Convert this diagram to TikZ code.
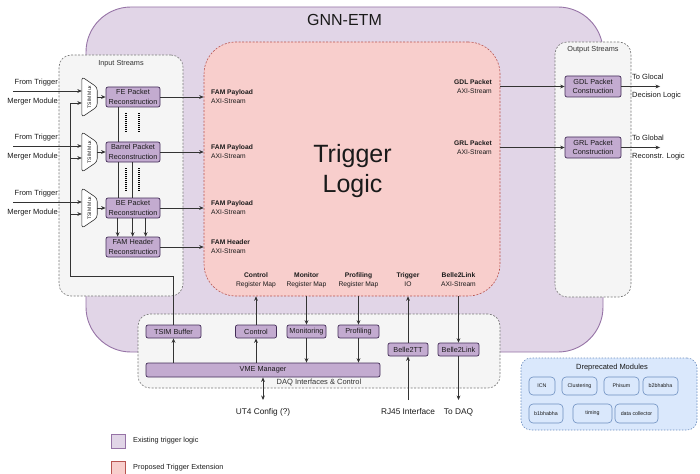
\documentclass[tikz,border=0pt]{standalone}
\usepackage{fontspec}
\setmainfont{Liberation Sans}
\usetikzlibrary{arrows.meta,calc}
\definecolor{pfill}{HTML}{E1D5E7}
\definecolor{pline}{HTML}{9673A6}
\definecolor{rfill}{HTML}{F8CECC}
\definecolor{rline}{HTML}{B85450}
\definecolor{gfill}{HTML}{F5F5F5}
\definecolor{gline}{HTML}{777777}
\definecolor{mfill}{HTML}{C3ABD0}
\definecolor{mline}{HTML}{432D57}
\definecolor{bfill}{HTML}{DAE8FC}
\definecolor{bline}{HTML}{6C8EBF}
\definecolor{lineC}{HTML}{333333}
\definecolor{txt}{HTML}{1A1A1A}
\tikzset{
  gnnbox/.style={draw=pline,fill=pfill,line width=0.9pt,rounded corners=45pt,minimum width=517pt,minimum height=345pt,inner sep=0pt},
  pinkbox/.style={draw=rline,fill=rfill,line width=0.6pt,dash pattern=on 2pt off 1.5pt,rounded corners=32pt,minimum width=296pt,minimum height=254pt,inner sep=0pt},
  bigtxt/.style={inner sep=0pt,align=center,font=\fontsize{25}{30}\selectfont,text=txt},
  graybox/.style={draw=gline,fill=gfill,line width=0.6pt,dash pattern=on 2pt off 1.5pt,rounded corners=12pt,inner sep=0pt},
  bluebox/.style={draw=bline,fill=bfill,line width=0.6pt,dash pattern=on 1.5pt off 1.5pt,rounded corners=10pt,inner sep=0pt},
  modbox/.style={draw=mline,fill=mfill,rounded corners=2pt,line width=0.7pt,inner sep=0pt,align=center,font=\fontsize{7.3}{9.6}\selectfont,text=txt},
  depbox/.style={draw=bline,fill=bfill,rounded corners=4pt,line width=0.6pt,inner sep=0pt,font=\fontsize{5.3}{6}\selectfont,text=txt},
  lbl/.style={inner sep=0pt,font=\fontsize{7.5}{9}\selectfont,text=txt},
  slbl/.style={inner sep=0pt,font=\fontsize{6.7}{9}\selectfont,text=txt},
  blbl/.style={inner sep=0pt,font=\fontsize{8.3}{10}\selectfont,text=txt},
  muxbox/.style={minimum width=15pt,minimum height=40pt,inner sep=0pt},
  muxtxt/.style={inner sep=0pt,font=\fontsize{5}{6}\selectfont,text=txt,rotate=90},
  muxline/.style={draw=lineC,fill=white,line width=0.6pt,rounded corners=3pt},
  conn/.style={draw=lineC,line width=0.7pt},
  arr/.style={conn,-{Stealth[length=4.5pt,width=3.8pt]}},
  darr/.style={conn,{Stealth[length=4.5pt,width=3.8pt]}-{Stealth[length=4.5pt,width=3.8pt]}},
  dotline/.style={draw=black,line width=1.8pt,dash pattern=on 1pt off 1pt},
  legsq/.style={minimum width=14pt,minimum height=14pt,inner sep=0pt,line width=0.7pt}
}
\begin{document}
\begin{tikzpicture}[x=1pt,y=-1pt]
\useasboundingbox (0,0) rectangle (700,473);

% containers
\node[gnnbox] (gnn) at (344.5,179.5) {};
\node[inner sep=0pt,font=\fontsize{16}{18}\selectfont,text=txt] (gnnt) at (344.5,20) {GNN-ETM};
\node[pinkbox] (tl) at (352,169) {};
\node[bigtxt] (tlt) at (352.5,171.5) {Trigger\\Logic};
\node[graybox,minimum width=124pt,minimum height=241pt] (inbox) at (121,175.5) {};
\node[lbl,font=\fontsize{7.3}{9}\selectfont,text=lineC] (inboxt) at (121,64) {Input Streams};
\node[graybox,minimum width=76pt,minimum height=255pt] (outbox) at (593,169.5) {};
\node[lbl,font=\fontsize{7.3}{9}\selectfont,text=lineC] (outboxt) at (593,50) {Output Streams};
\node[graybox,minimum width=362pt,minimum height=74pt] (daq) at (319,351) {};
\node[lbl,text=lineC] (daqt) at (319,382.5) {DAQ Interfaces \& Control};

% input muxes
\node[muxbox] (m1) at (89.5,97) {};
\node[muxbox] (m2) at (89.5,152) {};
\node[muxbox] (m3) at (89.5,208) {};
\foreach \m in {m1,m2,m3}{
  \draw[muxline] (\m.north west) -- ($(\m.north east)+(0,10.5)$) -- ($(\m.south east)+(0,-10.5)$) -- (\m.south west) -- cycle;
}
\node[muxtxt] (m1t) at (m1) {TSIM Mux};
\node[muxtxt] (m2t) at (m2) {TSIM Mux};
\node[muxtxt] (m3t) at (m3) {TSIM Mux};

% reconstruction modules
\node[modbox,minimum width=54pt,minimum height=20pt] (fe) at (133,97) {FE Packet\\Reconstruction};
\node[modbox,minimum width=54pt,minimum height=20pt] (barrel) at (133,152) {Barrel Packet\\Reconstruction};
\node[modbox,minimum width=54pt,minimum height=20pt] (be) at (133,208) {BE Packet\\Reconstruction};
\node[modbox,minimum width=54pt,minimum height=20pt] (famh) at (133,247) {FAM Header\\Reconstruction};

% input labels and lines
\node[lbl,anchor=east] (ft1) at (58,83) {From Trigger};
\node[lbl,anchor=east] (mm1) at (58,102) {Merger Module};
\node[lbl,anchor=east] (ft2) at (58,138) {From Trigger};
\node[lbl,anchor=east] (mm2) at (58,157) {Merger Module};
\node[lbl,anchor=east] (ft3) at (58,194) {From Trigger};
\node[lbl,anchor=east] (mm3) at (58,213) {Merger Module};
\coordinate (in1) at (13,91);
\coordinate (in2) at (13,146);
\coordinate (in3) at (13,202);
\draw[arr] (in1) -- (in1 -| m1.west);
\draw[arr] (in2) -- (in2 -| m2.west);
\draw[arr] (in3) -- (in3 -| m3.west);

\draw[arr] (m1.east) -- (fe.west);
\draw[arr] (m2.east) -- (barrel.west);
\draw[arr] (m3.east) -- (be.west);

% vertical links between modules
\draw[conn] ($(fe.south west)+(13,0)$) -- ($(barrel.north west)+(13,0)$);
\draw[dotline] ($(fe.south west)+(20,6)$) -- ($(barrel.north west)+(20,-9)$);
\draw[dotline] ($(fe.south west)+(33,6)$) -- ($(barrel.north west)+(33,-9)$);
\draw[conn] ($(barrel.south west)+(13,0)$) -- ($(be.north west)+(13,0)$);
\draw[conn] ($(barrel.south west)+(27,0)$) -- ($(be.north west)+(27,0)$);
\draw[dotline] ($(barrel.south west)+(20,6)$) -- ($(be.north west)+(20,-6)$);
\draw[dotline] ($(barrel.south west)+(33,6)$) -- ($(be.north west)+(33,-6)$);
\draw[arr] ($(be.south west)+(12,0)$) -- ($(famh.north west)+(12,0)$);
\draw[arr] ($(be.south west)+(27,0)$) -- ($(famh.north west)+(27,0)$);
\draw[arr] ($(be.south west)+(40,0)$) -- ($(famh.north west)+(40,0)$);

% streams into trigger logic
\draw[arr] (fe.east) -- (fe.east -| tl.west);
\draw[arr] (barrel.east) -- (barrel.east -| tl.west);
\draw[arr] (be.east) -- (be.east -| tl.west);
\draw[arr] (famh.east) -- (famh.east -| tl.west);
\node[slbl,anchor=west,align=left] (fl1) at (211,97) {\textbf{FAM Payload}\\AXI-Stream};
\node[slbl,anchor=west,align=left] (fl2) at (211,152) {\textbf{FAM Payload}\\AXI-Stream};
\node[slbl,anchor=west,align=left] (fl3) at (211,208) {\textbf{FAM Payload}\\AXI-Stream};
\node[slbl,anchor=west,align=left] (fl4) at (211,247) {\textbf{FAM Header}\\AXI-Stream};

% outputs
\node[modbox,minimum width=56pt,minimum height=21pt] (gdl) at (593,86.5) {GDL Packet\\Construction};
\node[modbox,minimum width=56pt,minimum height=21pt] (grl) at (593,147.5) {GRL Packet\\Construction};
\node[slbl,anchor=east,align=right] (gdlt) at (492,86.5) {\textbf{GDL Packet}\\AXI-Stream};
\node[slbl,anchor=east,align=right] (grlt) at (492,147.5) {\textbf{GRL Packet}\\AXI-Stream};
\draw[arr] (gdl.west -| tl.east) -- (gdl.west);
\draw[arr] (grl.west -| tl.east) -- (grl.west);
\coordinate (og1) at (660,86.5);
\coordinate (og2) at (660,147.5);
\draw[arr] (gdl.east) -- (og1);
\draw[arr] (grl.east) -- (og2);
\node[lbl,anchor=west] (tg1) at (632,77) {To Glocal};
\node[lbl,anchor=west] (tg2) at (632,95.5) {Decision Logic};
\node[lbl,anchor=west] (tg3) at (632,138) {To Global};
\node[lbl,anchor=west] (tg4) at (632,157) {Reconstr. Logic};

% register map labels
\node[slbl,align=center] (r1) at (256,280) {\textbf{Control}\\Register Map};
\node[slbl,align=center] (r2) at (306.5,280) {\textbf{Monitor}\\Register Map};
\node[slbl,align=center] (r3) at (358.5,280) {\textbf{Profiling}\\Register Map};
\node[slbl,align=center] (r4) at (408,280) {\textbf{Trigger}\\IO};
\node[slbl,align=center] (r5) at (458.5,280) {\textbf{Belle2Link}\\AXI-Stream};

% DAQ modules
\node[modbox,minimum width=55pt,minimum height=13pt] (tsim) at (173.5,331.5) {TSIM Buffer};
\node[modbox,minimum width=41pt,minimum height=13pt] (ctrl) at (256,331.5) {Control};
\node[modbox,minimum width=39pt,minimum height=13pt] (mon) at (306.5,331.5) {Monitoring};
\node[modbox,minimum width=41pt,minimum height=13pt] (prof) at (358.5,331.5) {Profiling};
\node[modbox,minimum width=40pt,minimum height=13pt] (b2tt) at (408,349.5) {Belle2TT};
\node[modbox,minimum width=41pt,minimum height=13pt] (b2link) at (458.5,349.5) {Belle2Link};
\node[modbox,minimum width=234pt,minimum height=14pt] (vme) at (263,370) {VME Manager};

% feedback path to muxes
\coordinate (fbc) at (70,276);
\coordinate (fb1) at (70,103);
\coordinate (fb2) at (70,158);
\coordinate (fb3) at (70,214);
\draw[arr] (tsim.north) |- (fbc) -- (fb1) -- (fb1 -| m1.west);
\draw[arr] (fb2) -- (fb2 -| m2.west);
\draw[arr] (fb3) -- (fb3 -| m3.west);

% DAQ connections
\draw[arr] (tsim.south |- vme.north) -- (tsim.south);
\draw[arr] (ctrl.south |- vme.north) -- (ctrl.south);
\draw[arr] (ctrl.north) -- (ctrl.north |- tl.south);
\draw[arr] (mon.north |- tl.south) -- (mon.north);
\draw[arr] (mon.south) -- (mon.south |- vme.north);
\draw[arr] (prof.north |- tl.south) -- (prof.north);
\draw[arr] (prof.south) -- (prof.south |- vme.north);
\coordinate (rj) at (408,400);
\coordinate (todaq) at (458.5,400);
\coordinate (ut4) at (263,400);
\draw[arr] (rj) -- (b2tt.south);
\draw[arr] (b2tt.north) -- (b2tt.north |- tl.south);
\draw[arr] (b2link.north |- tl.south) -- (b2link.north);
\draw[arr] (b2link.south) -- (todaq);
\draw[darr] (vme.south) -- (ut4);
\node[blbl] (ut4t) at (263,412) {UT4 Config (?)};
\node[blbl] (rjt) at (408,412) {RJ45 Interface};
\node[blbl] (daqtt) at (458.5,412) {To DAQ};

% deprecated modules
\node[bluebox,minimum width=176pt,minimum height=72pt] (dep) at (609,394) {};
\node[lbl] (dept) at (612,368) {Dreprecated Modules};
\node[depbox,minimum width=26pt,minimum height=18pt] (d1) at (542,386) {ICN};
\node[depbox,minimum width=35pt,minimum height=18pt] (d2) at (579.5,386) {Clustering};
\node[depbox,minimum width=35pt,minimum height=18pt] (d3) at (621.5,386) {Phisum};
\node[depbox,minimum width=35pt,minimum height=18pt] (d4) at (660.5,386) {b2bhabha};
\node[depbox,minimum width=34pt,minimum height=19pt] (d5) at (546,413.5) {b1bhabha};
\node[depbox,minimum width=39pt,minimum height=19pt] (d6) at (592.5,413.5) {timing};
\node[depbox,minimum width=43pt,minimum height=19pt] (d7) at (636.5,413.5) {data collector};

% legend
\node[legsq,draw=pline,fill=pfill] (lg1) at (118,441) {};
\node[lbl,anchor=west,font=\fontsize{7.3}{9}\selectfont] (lg1t) at (133,441) {Existing trigger logic};
\node[legsq,draw=rline,fill=rfill] (lg2) at (118,468) {};
\node[lbl,anchor=west,font=\fontsize{7.3}{9}\selectfont] (lg2t) at (133,468) {Proposed Trigger Extension};
\end{tikzpicture}
\end{document}
